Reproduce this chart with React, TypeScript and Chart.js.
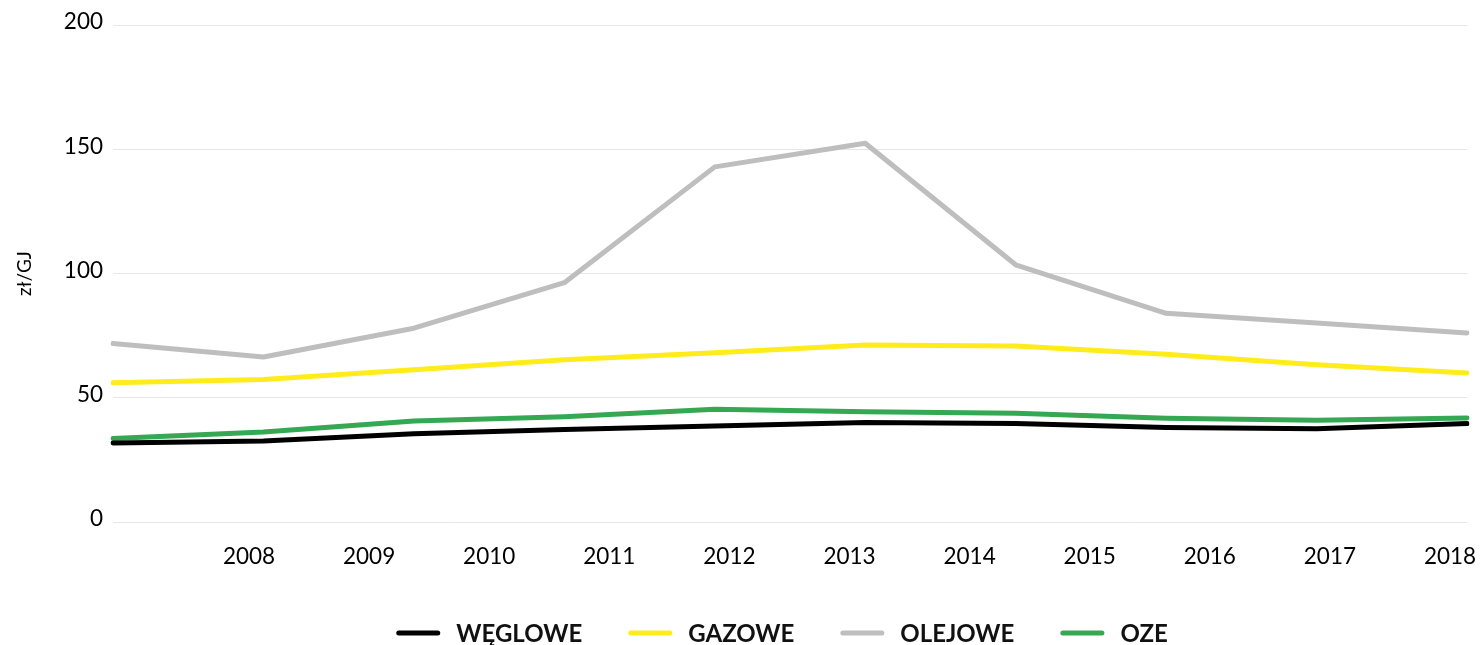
import React, { useEffect, useRef } from 'react';
import { Chart, registerables } from 'chart.js';

Chart.register(...registerables);

const SERIES_NAMES = ['WĘGLOWE', 'GAZOWE', 'OLEJOWE', 'OZE'];
const SERIES_COLORS = ['#000000', '#ffec1a', '#bebebe', '#34a853'];
const DATA_YEARS = ['2009', '2010', '2011', '2012', '2013', '2014', '2015', '2016', '2017', '2018'];
const TICK_YEARS = [2008, 2009, 2010, 2011, 2012, 2013, 2014, 2015, 2016, 2017, 2018];
const Y_TICKS = [0, 50, 100, 150, 200];

const WEGLOWE = [31.8, 32.6, 35.5, 37.2, 38.6, 40.0, 39.6, 38.0, 37.5, 39.6];
const GAZOWE = [56.0, 57.3, 61.3, 65.3, 68.1, 71.2, 70.8, 67.5, 63.3, 60.0];
const OLEJOWE = [71.8, 66.4, 78.0, 96.3, 142.9, 152.4, 103.5, 84.0, 80.1, 76.1];
const OZE = [33.6, 36.2, 40.6, 42.4, 45.4, 44.4, 43.8, 41.8, 40.9, 41.9];

const SERIES = [WEGLOWE, GAZOWE, OLEJOWE, OZE];

const FONT = 'Lato';

const legendPlugin = {
  id: 'customLegend',
  afterDraw(chart: any) {
    const ctx = chart.ctx;
    const area = chart.chartArea;
    const lineW = 44;
    const gapText = 16;
    const gapItem = 46;
    ctx.save();
    ctx.font = `bold 24px ${FONT}`;
    const items = chart.data.datasets.map((ds: any) => ({
      label: ds.label,
      color: ds.borderColor,
      w: ctx.measureText(ds.label).width,
    }));
    const total =
      items.reduce((s: number, it: any) => s + lineW + gapText + it.w, 0) + gapItem * (items.length - 1);
    let x = (area.left + area.right) / 2 - 8 - total / 2;
    const y = chart.height - 12;
    ctx.textBaseline = 'middle';
    ctx.textAlign = 'left';
    for (const it of items) {
      ctx.beginPath();
      ctx.lineWidth = 5;
      ctx.lineCap = 'round';
      ctx.strokeStyle = it.color;
      ctx.moveTo(x + 2.5, y);
      ctx.lineTo(x + lineW - 2.5, y);
      ctx.stroke();
      x += lineW + gapText;
      ctx.fillStyle = '#111111';
      ctx.fillText(it.label, x, y + 1);
      x += it.w + gapItem;
    }
    ctx.restore();
  },
};

export default function App() {
  const canvasRef = useRef<HTMLCanvasElement | null>(null);

  useEffect(() => {
    document.body.style.margin = '0';
    const canvas = canvasRef.current;
    if (!canvas) return;
    const chart = new Chart(canvas, {
      type: 'line',
      data: {
        labels: DATA_YEARS,
        datasets: SERIES_NAMES.map((name, i) => ({
          label: name,
          data: SERIES[i],
          borderColor: SERIES_COLORS[i],
          backgroundColor: SERIES_COLORS[i],
          borderWidth: 5,
          pointRadius: 0,
          pointHoverRadius: 0,
          tension: 0,
          borderCapStyle: 'round',
          borderJoinStyle: 'round',
          fill: false,
          xAxisID: 'x',
          yAxisID: 'y',
        })),
      },
      options: {
        animation: false,
        responsive: true,
        maintainAspectRatio: false,
        layout: { padding: { top: 25, right: 14, bottom: 0, left: 0 } },
        plugins: {
          legend: { display: false },
          tooltip: { enabled: false },
        },
        scales: {
          x: {
            type: 'category',
            display: false,
            offset: false,
          },
          xYears: {
            type: 'linear',
            position: 'bottom',
            min: 2006.8676,
            max: 2018.1416,
            grid: { display: false, drawTicks: false },
            border: { display: false },
            afterBuildTicks: (scale: any) => {
              scale.ticks = TICK_YEARS.map((v) => ({ value: v }));
            },
            afterFit: (scale: any) => {
              scale.height = 123;
              scale.paddingLeft = 0;
              scale.paddingRight = 0;
            },
            ticks: {
              autoSkip: false,
              maxRotation: 0,
              padding: 21,
              color: '#000000',
              font: { family: FONT, size: 22.5 },
              callback: (v: any) => String(v),
            },
          },
          y: {
            type: 'linear',
            min: 0,
            max: 200,
            afterBuildTicks: (scale: any) => {
              scale.ticks = Y_TICKS.map((v) => ({ value: v }));
            },
            afterFit: (scale: any) => {
              scale.width = 113;
            },
            grid: { color: '#e6e6e6', lineWidth: 1, drawTicks: false },
            border: { display: false },
            ticks: {
              padding: 10,
              labelOffset: -3,
              color: '#000000',
              font: { family: FONT, size: 22.5 },
            },
            title: {
              display: true,
              text: 'zł/GJ',
              color: '#000000',
              font: { family: FONT, size: 19 },
              padding: { top: 13, bottom: 0 },
            },
          },
        },
      },
      plugins: [legendPlugin],
    });
    return () => chart.destroy();
  }, []);

  return (
    <div style={{ position: 'relative', width: '1481px', height: '645px' }}>
      <canvas ref={canvasRef} />
    </div>
  );
}
